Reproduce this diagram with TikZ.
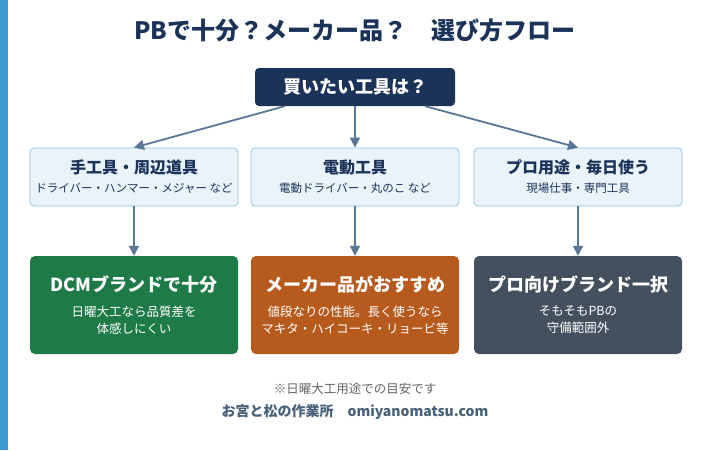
\documentclass[tikz,border=0pt]{standalone}
\usepackage{fontspec}
\setmainfont{Noto Sans CJK JP}
\usetikzlibrary{arrows.meta}
\definecolor{navy}{HTML}{1B3358}
\definecolor{lb}{HTML}{EAF3FA}
\definecolor{lbb}{HTML}{8EC3E3}
\definecolor{gr}{HTML}{1E7B47}
\definecolor{br}{HTML}{B65A1E}
\definecolor{sl}{HTML}{45505F}
\definecolor{ar}{HTML}{5A7896}
\definecolor{bar}{HTML}{3A9BD0}
\tikzset{
 mid/.style={draw=lbb,fill=lb,rounded corners=4pt,minimum width=208pt,minimum height=58pt,line width=0.8pt,align=center,text=navy},
 bot/.style={rounded corners=5pt,minimum width=208pt,minimum height=98pt,align=center,text=white},
 arr/.style={-{Triangle[length=10pt,width=10pt]},draw=ar,line width=1.8pt}
}
\begin{document}
\begin{tikzpicture}[x=1pt,y=-1pt]
\useasboundingbox (0,0) rectangle (711,450);
\fill[white] (0,0) rectangle (711,450);
\fill[bar] (0,0) rectangle (8,450);
\node[text=navy,font=\bfseries\fontsize{24}{28}\selectfont] (title) at (355,30) {PBで十分？メーカー品？　選び方フロー};
\node[fill=navy,rounded corners=4pt,minimum width=200pt,minimum height=38pt,text=white,font=\bfseries\fontsize{18}{22}\selectfont] (top) at (355,87) {買いたい工具は？};
\node[mid] (m1) at (134,177) {\bfseries\fontsize{16}{19}\selectfont 手工具・周辺道具\\[7pt]\fontsize{11.5}{14}\selectfont ドライバー・ハンマー・メジャー など};
\node[mid] (m2) at (355,177) {\bfseries\fontsize{16}{19}\selectfont 電動工具\\[7pt]\fontsize{11.5}{14}\selectfont 電動ドライバー・丸のこ など};
\node[mid] (m3) at (578,177) {\bfseries\fontsize{16}{19}\selectfont プロ用途・毎日使う\\[7pt]\fontsize{11.5}{14}\selectfont 現場仕事・専門工具};
\node[bot,fill=gr] (b1) at (134,305) {\bfseries\fontsize{18}{22}\selectfont DCMブランドで十分\\[12pt]\fontsize{12.5}{20}\selectfont 日曜大工なら品質差を\\[5pt]\fontsize{12.5}{20}\selectfont 体感しにくい};
\node[bot,fill=br] (b2) at (355,305) {\bfseries\fontsize{18}{22}\selectfont メーカー品がおすすめ\\[12pt]\fontsize{12.5}{20}\selectfont 値段なりの性能。長く使うなら\\[5pt]\fontsize{12.5}{20}\selectfont マキタ・ハイコーキ・リョービ等};
\node[bot,fill=sl] (b3) at (578,305) {\bfseries\fontsize{18}{22}\selectfont プロ向けブランド一択\\[12pt]\fontsize{12.5}{20}\selectfont そもそもPBの\\[5pt]\fontsize{12.5}{20}\selectfont 守備範囲外};
\draw[arr] (top.south west) ++(30,0) coordinate (s1) -- (m1.north);
\draw[arr] (top.south) -- (m2.north);
\draw[arr] (top.south east) ++(-30,0) coordinate (s3) -- (m3.north);
\draw[arr] (m1.south) -- (b1.north);
\draw[arr] (m2.south) -- (b2.north);
\draw[arr] (m3.south) -- (b3.north);
\node[text=gray!80!black,font=\fontsize{12.5}{15}\selectfont] (n1) at (355,389) {※日曜大工用途での目安です};
\node[text=ar!80!black,font=\bfseries\fontsize{14}{17}\selectfont] (n2) at (355,412) {お宮と松の作業所　omiyanomatsu.com};
\end{tikzpicture}
\end{document}
